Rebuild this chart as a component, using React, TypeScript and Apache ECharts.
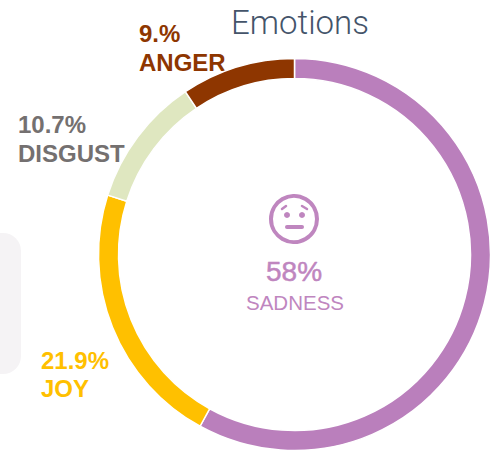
import React, { useEffect, useRef } from "react";
import * as echarts from "echarts";

const titleText = "Emotions";
const categories = ["SADNESS", "JOY", "DISGUST", "ANGER"];
const values = [58, 21.9, 10.7, 9.4];
const valueLabels = ["58%", "21.9%", "10.7%", "9.%"];
const colors = ["#BA7FBC", "#FFC000", "#DFE7C0", "#8E3600"];
const labelColors = ["#BF86BF", "#FFC000", "#747070", "#8E3600"];

export default function App() {
  const ref = useRef<HTMLDivElement>(null);
  useEffect(() => {
    const chart = echarts.init(ref.current!, null, { renderer: "svg" });
    const font = '"Liberation Sans", Arial, sans-serif';
    const sideLabel = (i: number, x: number, y1: number, y2: number) => [
      { type: "text", x, y: y1, style: { text: valueLabels[i], fill: labelColors[i], font: `bold 24px ${font}`, textVerticalAlign: "middle" } },
      { type: "text", x, y: y2, style: { text: categories[i], fill: labelColors[i], font: `bold 24px ${font}`, textVerticalAlign: "middle" } },
    ];
    const ic = labelColors[0];
    chart.setOption({
      animation: false,
      series: [
        {
          type: "pie",
          center: [294.5, 254.5],
          radius: [176, 196],
          startAngle: 90,
          clockwise: true,
          silent: true,
          label: { show: false },
          labelLine: { show: false },
          itemStyle: { borderColor: "#fff", borderWidth: 1.5 },
          data: categories.map((name, i) => ({ name, value: values[i], itemStyle: { color: colors[i] } })),
        },
      ],
      graphic: [
        { type: "rect", shape: { x: -30, y: 233, width: 51, height: 141, r: 18 }, style: { fill: "#F5F3F5" }, z: -1 },
        { type: "text", x: 231, y: 22, style: { text: titleText, fill: "#44546A", font: `300 33px Roboto, ${font}`, textVerticalAlign: "middle" } },
        ...sideLabel(3, 139, 33, 62),
        ...sideLabel(2, 18, 124, 153),
        ...sideLabel(1, 41, 360, 388),
        { type: "text", x: 294, y: 271, style: { text: valueLabels[0], fill: ic, stroke: ic, lineWidth: 0.5, font: `28px ${font}`, textAlign: "center", textVerticalAlign: "middle" } },
        { type: "text", x: 295, y: 302, style: { text: categories[0], fill: ic, font: `20.5px ${font}`, textAlign: "center", textVerticalAlign: "middle" } },
        { type: "circle", shape: { cx: 294, cy: 219, r: 23 }, style: { fill: "none", stroke: ic, lineWidth: 4 } },
        { type: "circle", shape: { cx: 287, cy: 215, r: 3 }, style: { fill: ic } },
        { type: "circle", shape: { cx: 302, cy: 215, r: 3 }, style: { fill: ic } },
        { type: "line", shape: { x1: 287, y1: 227, x2: 302, y2: 227 }, style: { stroke: ic, lineWidth: 4, lineCap: "round" } },
        { type: "line", shape: { x1: 282, y1: 209, x2: 286, y2: 206 }, style: { stroke: ic, lineWidth: 2.5, lineCap: "round" } },
        { type: "line", shape: { x1: 302, y1: 206, x2: 307, y2: 209 }, style: { stroke: ic, lineWidth: 2.5, lineCap: "round" } },
      ],
    });
    return () => chart.dispose();
  }, []);
  return <div ref={ref} style={{ position: "absolute", left: 0, top: 0, width: 491, height: 450, background: "#fff" }} />;
}
